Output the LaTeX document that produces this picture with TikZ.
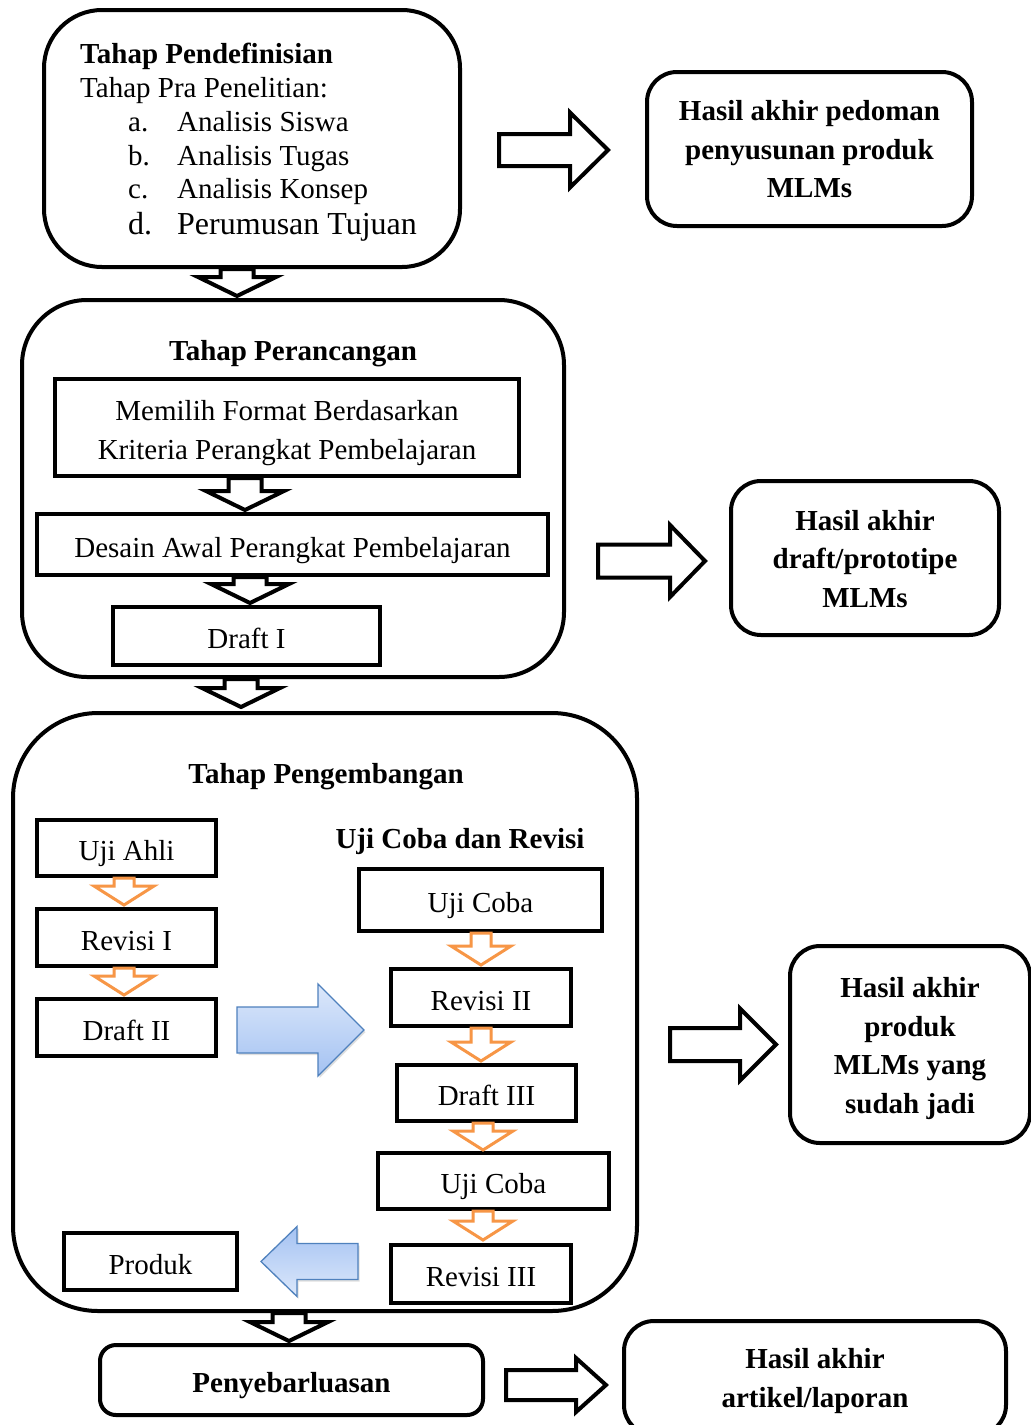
\documentclass[tikz,border=0pt]{standalone}
\usepackage{fontspec}
\setmainfont{Liberation Serif}
\usetikzlibrary{calc,shadows}
\definecolor{orng}{HTML}{F79646}
\definecolor{bline}{HTML}{4F81BD}
\definecolor{blight}{HTML}{DCE8FB}
\definecolor{bdark}{HTML}{A4C2F2}
\newcommand\fsz{\fontsize{29}{38.5}\selectfont}
\newcommand\fszb{\fontsize{29}{39}\selectfont}
\tikzset{
  bx/.style={draw, line width=4pt, fill=white, inner sep=0pt, font=\fsz, align=center},
  one/.style={bx, text height=29pt, text depth=4pt},
  rbx/.style={bx, rounded corners=#1},
  hbx/.style={bx, rounded corners=30pt, font=\fsz\bfseries},
  ttl/.style={inner sep=0pt, font=\fsz\bfseries},
  txt/.style={inner sep=0pt, font=\fsz, anchor=base west},
  blk/.style={draw, line width=4pt, fill=white, line join=miter},
  org/.style={draw=orng, line width=3pt, fill=white, line join=miter},
  blu/.style={draw=bline, line width=1.3pt, top color=#1, bottom color=bdark,
    drop shadow={opacity=0.25, shadow xshift=1.5pt, shadow yshift=-2pt}},
  blu/.default=blight,
}
% down block arrow: style, start, end, shaft half, head half, head length
\newcommand\dnarrow[6]{\draw[#1] let \p1=#2, \p2=#3 in
  (\x1-#4pt,\y1) -- (\x1-#4pt,\y2+#6pt) -- (\x1-#5pt,\y2+#6pt) -- (\x1,\y2)
  -- (\x1+#5pt,\y2+#6pt) -- (\x1+#4pt,\y2+#6pt) -- (\x1+#4pt,\y1) -- cycle;}
% right block arrow
\newcommand\rtarrow[6]{\draw[#1] let \p1=#2, \p2=#3 in
  (\x1,\y1+#4pt) -- (\x2-#6pt,\y1+#4pt) -- (\x2-#6pt,\y1+#5pt) -- (\x2,\y1)
  -- (\x2-#6pt,\y1-#5pt) -- (\x2-#6pt,\y1-#4pt) -- (\x1,\y1-#4pt) -- cycle;}
% left block arrow
\newcommand\lfarrow[6]{\draw[#1] let \p1=#2, \p2=#3 in
  (\x1,\y1+#4pt) -- (\x2+#6pt,\y1+#4pt) -- (\x2+#6pt,\y1+#5pt) -- (\x2,\y1)
  -- (\x2+#6pt,\y1-#5pt) -- (\x2+#6pt,\y1-#4pt) -- (\x1,\y1-#4pt) -- cycle;}
\begin{document}
\begin{tikzpicture}[x=1pt,y=-1pt]
\clip (0,0) rectangle (1031,1425);
\fill[white] (0,0) rectangle (1031,1425);

% ---------- Tahap Pendefinisian ----------
\node[rbx=58pt, minimum width=416pt, minimum height=257pt] (def) at (252,138.5) {};
\node[txt, font=\fsz\bfseries] (defT) at (80,63) {Tahap Pendefinisian};
\node[txt] (defP) at (80,97) {Tahap Pra Penelitian:};
\node[txt] (la) at (128,131) {a.};
\node[txt] (ta) at (177,131) {Analisis Siswa};
\node[txt] (lb) at (128,165) {b.};
\node[txt] (tb) at (177,165) {Analisis Tugas};
\node[txt] (lc) at (128,198) {c.};
\node[txt] (tc) at (177,198) {Analisis Konsep};
\node[txt, font=\fontsize{32}{38}\selectfont] (ld) at (128,234) {d.};
\node[txt, font=\fontsize{32}{38}\selectfont] (td) at (177,234) {Perumusan Tujuan};

\node[hbx, minimum width=325pt, minimum height=154pt] (H1) at (809.5,149)
  {\rule{0pt}{21pt}Hasil akhir pedoman\\penyusunan produk\\MLMs};

% ---------- Tahap Perancangan ----------
\node[rbx=65pt, minimum width=542pt, minimum height=377pt] (ran) at (293,488.5) {};
\node[ttl] (ranT) at (293,354) {Tahap Perancangan};
\node[bx, minimum width=464pt, minimum height=97pt] (pilih) at (287,427.5) {};
\node[inner sep=0pt, font=\fszb, align=center] (pilihT) at (287,433.5)
  {Memilih Format Berdasarkan\\Kriteria Perangkat Pembelajaran};
\node[one, minimum width=511pt, minimum height=61pt] (desain) at (292.5,544.5)
  {Desain Awal Perangkat Pembelajaran};
\node[one, minimum width=267pt, minimum height=58pt] (d1) at (246.5,636) {Draft I};

\node[hbx, minimum width=268pt, minimum height=154pt] (H2) at (865,558)
  {\rule{0pt}{22pt}Hasil akhir\\draft/prototipe\\MLMs};

% ---------- Tahap Pengembangan ----------
\node[rbx=85pt, minimum width=624pt, minimum height=598pt] (kem) at (325,1012) {};
\node[ttl] (kemT) at (326,777) {Tahap Pengembangan};
\node[ttl] (ujiT) at (460,842) {Uji Coba dan Revisi};

\node[one, minimum width=179pt, minimum height=56pt] (ahli) at (126.5,848) {Uji Ahli};
\node[one, minimum width=179pt, minimum height=57pt] (r1) at (126.5,937.5) {Revisi I};
\node[one, minimum width=179pt, minimum height=57pt] (d2) at (126.5,1027.5) {Draft II};

\node[one, minimum width=243pt, minimum height=62pt] (uc1) at (480.5,900) {Uji Coba};
\node[one, minimum width=180pt, minimum height=57pt] (r2) at (481,997.5) {Revisi II};
\node[one, minimum width=179pt, minimum height=56pt] (d3) at (486.5,1093) {Draft III};
\node[one, minimum width=231pt, minimum height=56pt] (uc2) at (493.5,1181) {Uji Coba};
\node[one, minimum width=180pt, minimum height=58pt] (r3) at (481,1274) {Revisi III};
\node[one, minimum width=173pt, minimum height=57pt] (prod) at (150.5,1261.5) {Produk};

\node[hbx, minimum width=240pt, minimum height=197pt] (H3) at (910,1044.5)
  {\rule{0pt}{28pt}Hasil akhir\\produk\\MLMs yang\\sudah jadi};

% ---------- Penyebarluasan ----------
\node[one, rounded corners=16pt, font=\fsz\bfseries, minimum width=383pt, minimum height=70pt] (seb) at (291.5,1380)
  {Penyebarluasan};
\node[hbx, minimum width=382pt, minimum height=114pt] (H4) at (815,1378)
  {\rule{0pt}{26pt}Hasil akhir\\artikel/laporan};

% ---------- black down arrows ----------
\dnarrow{blk}{($(def.south)+(-15,0)$)}{($(ran.north)+(0,-2)$)}{16.5}{39}{19}
\dnarrow{blk}{($(pilih.south)+(-42,0)$)}{($(desain.north)+(0,-2)$)}{16.5}{39}{19}
\dnarrow{blk}{($(desain.south)+(-42.5,0)$)}{($(d1.north)+(0,-2)$)}{16.5}{39}{19}
\dnarrow{blk}{($(ran.south)+(-52,0)$)}{($(kem.north)+(0,-4)$)}{16.5}{39}{19}
\dnarrow{blk}{($(kem.south)+(-36,0)$)}{($(seb.north)+(0,-2)$)}{16.5}{39}{19}

% ---------- orange arrows ----------
\dnarrow{org}{($(ahli.south)+(-2.5,0)$)}{($(r1.north)+(0,-2)$)}{10}{30}{19}
\dnarrow{org}{($(r1.south)+(-2.5,0)$)}{($(d2.north)+(0,-2)$)}{10}{30}{19}
\dnarrow{org}{($(uc1.south)+(0.5,0)$)}{($(r2.north)+(0,-2)$)}{10}{30}{19}
\dnarrow{org}{($(r2.south)+(0,0)$)}{($(d3.north)+(0,-2)$)}{10}{30}{19}
\dnarrow{org}{($(d3.south)+(-3.5,0)$)}{($(uc2.north)+(0,-1)$)}{10}{30}{19}
\dnarrow{org}{($(uc2.south)+(-10.5,0)$)}{($(r3.north)+(0,-3)$)}{10}{30}{19}

% ---------- blue arrows ----------
\rtarrow{blu}{($(d2.east)+(19,2.5)$)}{($(r2.west |- d2.east)+(-25,2.5)$)}{23}{46}{46}
\lfarrow{blu=bdark, bottom color=blight}{($(r3.west |- prod.east)+(-31,0)$)}{($(prod.east)+(22,0)$)}{18}{35}{36}

% ---------- black right arrows ----------
\rtarrow{blk}{($(def.east |- H1.west)+(37,1)$)}{($(H1.west)+(-37,1)$)}{16}{37.5}{38}
\rtarrow{blk}{($(ran.east |- H2.west)+(32,3)$)}{($(H2.west)+(-24,3)$)}{16.5}{36}{35}
\rtarrow{blk}{($(kem.east |- H3.west)+(31,0)$)}{($(H3.west)+(-12,0)$)}{16.5}{36}{36}
\rtarrow{blk}{($(seb.east)+(21,5)$)}{($(H4.west |- seb.east)+(-16,5)$)}{15}{27}{30}
\end{tikzpicture}
\end{document}
